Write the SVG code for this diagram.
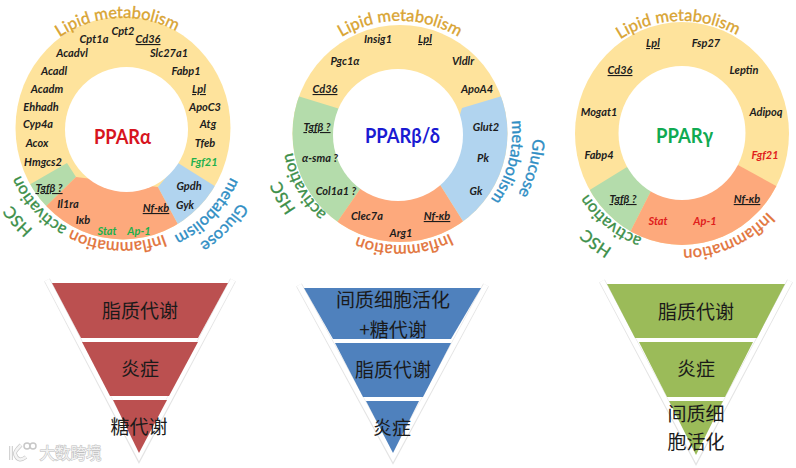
<svg xmlns="http://www.w3.org/2000/svg" width="796" height="468" viewBox="0 0 796 468">
<style>
.bg{fill:#fff}
.y{fill:#fee39c}.g{fill:#b4dcab}.o{fill:#fda97c}.b{fill:#b1d4ef}
.hole{fill:#fff}
.t{font-family:"Lato","Liberation Sans",sans-serif;font-size:11px;font-weight:700;font-style:italic;fill:#1c1c1c;text-anchor:middle}
.u{text-decoration:underline}
.lg{fill:#1fb04c}.lr{fill:#e0201c}
.title{font-family:"Lato","Liberation Sans",sans-serif;font-size:21px;font-weight:700;text-anchor:middle}
.arc{font-family:"Lato","Liberation Sans",sans-serif;font-size:16.5px;font-weight:400;text-anchor:middle;stroke-width:.35}
.cl{fill:#d9a432;stroke:#d9a432}.cg{fill:#3c8f49;stroke:#3c8f49}.co{fill:#e2733a;stroke:#e2733a}.cb{fill:#2f8ec4;stroke:#2f8ec4}
.cjk{font-family:"Noto Sans CJK SC",sans-serif;font-size:19px;fill:#1a1a1a;text-anchor:middle}
.edge{fill:none;stroke:#e4e4e4;stroke-width:6.500;stroke-linejoin:miter}
.edge2{fill:none;stroke:#fff;stroke-width:5;stroke-linejoin:miter}
.wm{font-family:"Noto Sans CJK SC",sans-serif;font-size:15.500px;fill:#f2f2f2;stroke:#bdbdbd;stroke-width:1;paint-order:stroke}
.wl{fill:none;stroke:#c8c8c8;stroke-width:4}
.wl2{fill:none;stroke:#f4f4f4;stroke-width:2.500}
</style>
<defs>
<path id="r109" d="M-108.6 -9.5A109 109 0 0 1 108.6 -9.5"/>
<path id="r112" d="M-111.6 -9.7A112 112 0 0 1 111.6 -9.7"/>
<path id="r113" d="M-112.5 -9.8A113 113 0 0 1 112.5 -9.8"/>
<path id="r116" d="M-115.6 -10.1A116 116 0 0 1 115.6 -10.1"/>
<path id="r118" d="M-117.5 -10.3A118 118 0 0 1 117.5 -10.3"/>
<path id="r129" d="M-128.5 -11.2A129 129 0 0 1 128.5 -11.2"/>
<path id="r133" d="M-132.5 -11.6A133 133 0 0 1 132.5 -11.6"/>
<path id="r134" d="M-133.5 -11.7A134 134 0 0 1 133.5 -11.7"/>
<path id="r135" d="M-134.5 -11.7A135 135 0 0 1 134.5 -11.7"/>
<path id="r137" d="M-136.5 -11.9A137 137 0 0 1 136.5 -11.9"/>
<clipPath id="c1"><ellipse cx="123" cy="128" rx="107.500" ry="111.500"/></clipPath>
<clipPath id="c2"><ellipse cx="400" cy="133.500" rx="107.500" ry="108.500"/></clipPath>
<clipPath id="c3"><ellipse cx="682" cy="133.500" rx="107" ry="111.500"/></clipPath>
</defs>
<rect class="bg" width="796" height="468"/>

<g id="ring-alpha">
<ellipse class="y" cx="123" cy="128" rx="107.500" ry="111.500"/>
<g clip-path="url(#c1)">
<polygon class="g" points="67,163 10,196 30,222 76,177"/>
<polygon class="o" points="76,177 30,222 60,280 195,256 158,187"/>
<polygon class="b" points="158,187 195,256 240,202 178,163"/>
</g>
<ellipse class="hole" cx="126.500" cy="129.500" rx="61.500" ry="62.500"/>
<text class="title" x="122.500" y="144" fill="#d7141e" textLength="57" lengthAdjust="spacingAndGlyphs">PPARα</text>
<g>
<text class="t" x="94" y="43">Cpt1a</text><text class="t" x="123" y="35">Cpt2</text><text class="t u" x="148" y="43">Cd36</text>
<text class="t" x="72" y="57">Acadvl</text><text class="t" x="169" y="57">Slc27a1</text>
<text class="t" x="54" y="75">Acadl</text><text class="t" x="186" y="75">Fabp1</text>
<text class="t" x="47" y="93">Acadm</text><text class="t u" x="199" y="93">Lpl</text>
<text class="t" x="41" y="111">Ehhadh</text><text class="t" x="205" y="111">ApoC3</text>
<text class="t" x="38" y="128">Cyp4a</text><text class="t" x="208" y="128">Atg</text>
<text class="t" x="37" y="147">Acox</text><text class="t" x="205" y="147">Tfeb</text>
<text class="t" x="43" y="166">Hmgcs2</text><text class="t lg" x="204" y="166">Fgf21</text>
<text class="t u" x="49" y="192">Tgfβ ?</text><text class="t" x="189" y="190">Gpdh</text><text class="t" x="185" y="209">Gyk</text>
<text class="t" x="68" y="208">Il1ra</text><text class="t u" x="156" y="212">Nf-κb</text><text class="t" x="83" y="224">Iκb</text>
<text class="t lg" x="107" y="235">Stat</text><text class="t lg" x="139" y="235">Ap-1</text>
</g>
<g transform="translate(123 130) rotate(-3)"><text class="arc cl"><textPath href="#r113" startOffset="50%">Lipid metabolism</textPath></text></g>
<g transform="translate(123 130) rotate(134)"><text class="arc cb"><textPath href="#r118" startOffset="50%">metabolism</textPath></text></g>
<g transform="translate(123 130) rotate(134)"><text class="arc cb"><textPath href="#r137" startOffset="50%">Glucose</textPath></text></g>
<g transform="translate(123 130) rotate(183)"><text class="arc co"><textPath href="#r113" startOffset="50%">Inflammation</textPath></text></g>
<g transform="translate(123 130) rotate(228)"><text class="arc cg"><textPath href="#r113" startOffset="50%">activation</textPath></text></g>
<g transform="translate(123 130) rotate(229)"><text class="arc cg"><textPath href="#r134" startOffset="50%">HSC</textPath></text></g>
</g>

<g id="ring-beta">
<ellipse class="y" cx="400" cy="133.500" rx="107.500" ry="108.500"/>
<g clip-path="url(#c2)">
<polygon class="g" points="340,109 278,90 270,200 322,244 363,185"/>
<polygon class="o" points="363,185 322,244 400,270 478,245 439,183"/>
<polygon class="b" points="439,183 478,245 530,200 522,90 462,108"/>
</g>
<ellipse class="hole" cx="398" cy="135" rx="65" ry="66"/>
<text class="title" x="402.500" y="143" fill="#1a1ad2" textLength="75" lengthAdjust="spacingAndGlyphs">PPARβ/δ</text>
<g>
<text class="t" x="378" y="43">Insig1</text><text class="t u" x="425" y="43">Lpl</text>
<text class="t" x="345" y="65">Pgc1α</text><text class="t" x="463" y="65">Vldlr</text>
<text class="t u" x="325" y="93">Cd36</text><text class="t" x="477" y="93">ApoA4</text>
<text class="t u" x="317" y="131">Tgfβ ?</text><text class="t" x="486" y="131">Glut2</text>
<text class="t" x="320" y="162">α-sma ?</text><text class="t" x="483" y="162">Pk</text>
<text class="t" x="336" y="195">Col1a1 ?</text><text class="t" x="476" y="195">Gk</text>
<text class="t" x="367" y="220">Clec7a</text><text class="t u" x="437" y="220">Nf-κb</text><text class="t" x="401" y="237">Arg1</text>
</g>
<g transform="translate(400 133) rotate(0)"><text class="arc cl"><textPath href="#r113" startOffset="50%">Lipid metabolism</textPath></text></g>
<g transform="translate(400 133) rotate(105)"><text class="arc cb"><textPath href="#r113" startOffset="50%">metabolism</textPath></text></g>
<g transform="translate(400 133) rotate(105)"><text class="arc cb"><textPath href="#r133" startOffset="50%">Glucose</textPath></text></g>
<g transform="translate(400 133) rotate(178)"><text class="arc co"><textPath href="#r112" startOffset="50%">Inflammation</textPath></text></g>
<g transform="translate(400 133) rotate(241)"><text class="arc cg"><textPath href="#r109" startOffset="50%">activation</textPath></text></g>
<g transform="translate(400 133) rotate(241)"><text class="arc cg"><textPath href="#r129" startOffset="50%">HSC</textPath></text></g>
</g>

<g id="ring-gamma">
<ellipse class="y" cx="682" cy="133.500" rx="107" ry="111.500"/>
<g clip-path="url(#c3)">
<polygon class="g" points="627,167 570,202 621,250 651,191"/>
<polygon class="o" points="651,191 621,250 700,270 800,199 738,165"/>
</g>
<ellipse class="hole" cx="682" cy="133" rx="63.500" ry="67"/>
<text class="title" x="684.500" y="143" fill="#10aa52" textLength="57" lengthAdjust="spacingAndGlyphs">PPARγ</text>
<g>
<text class="t u" x="653" y="47">Lpl</text><text class="t" x="706" y="47">Fsp27</text>
<text class="t u" x="620" y="74">Cd36</text><text class="t" x="744" y="74">Leptin</text>
<text class="t" x="599" y="116">Mogat1</text><text class="t" x="766" y="116">Adipoq</text>
<text class="t" x="599" y="159">Fabp4</text><text class="t lr" x="765" y="159">Fgf21</text>
<text class="t u" x="623" y="203">Tgfβ ?</text><text class="t u" x="747" y="203">Nf-κb</text>
<text class="t lr" x="658" y="225">Stat</text><text class="t lr" x="705" y="225">Ap-1</text>
</g>
<g transform="translate(682 133) rotate(-2)"><text class="arc cl"><textPath href="#r113" startOffset="50%">Lipid metabolism</textPath></text></g>
<g transform="translate(682 133) rotate(156)"><text class="arc co"><textPath href="#r116" startOffset="50%">Inflammation</textPath></text></g>
<g transform="translate(682 133) rotate(219)"><text class="arc cg"><textPath href="#r112" startOffset="50%">activation</textPath></text></g>
<g transform="translate(682 133) rotate(218)"><text class="arc cg"><textPath href="#r135" startOffset="50%">HSC</textPath></text></g>
</g>

<g id="pyramid-alpha">
<polyline class="edge" points="47,280 139,457 233,280"/>
<polyline class="edge2" points="47,280 139,456 233,280"/>
<g id="pa-1"><polygon fill="#bb5050" points="52,283 228,283 198,338 81,338"/><text class="cjk" x="140" y="318">脂质代谢</text></g>
<g id="pa-2"><polygon fill="#bb5050" points="82,342 198,342 169,396 110,396"/><text class="cjk" x="140" y="376">炎症</text></g>
<g id="pa-3"><polygon fill="#bb5050" points="113,400 167,400 139,453"/><text class="cjk" x="139" y="434">糖代谢</text></g>
</g>

<g id="pyramid-beta">
<polyline class="edge" points="299,285 393,458 486,285"/>
<polyline class="edge2" points="299,285 393,457 486,285"/>
<g id="pb-1"><polygon fill="#4f81bd" points="304,288 481,288 451,339 333,339"/><text class="cjk" x="393" y="307">间质细胞活化</text><text class="cjk" x="393" y="337">+糖代谢</text></g>
<g id="pb-2"><polygon fill="#4f81bd" points="335,343 451,343 423,397 363,397"/><text class="cjk" x="393" y="377">脂质代谢</text></g>
<g id="pb-3"><polygon fill="#4f81bd" points="366,401 419,401 393,453"/><text class="cjk" x="392" y="435">炎症</text></g>
</g>

<g id="pyramid-gamma">
<polyline class="edge" points="602,281 696,459 790,281"/>
<polyline class="edge2" points="602,281 696,458 790,281"/>
<g id="pg-1"><polygon fill="#9bbb59" points="607,284 785,284 757,338 635,338"/><text class="cjk" x="696" y="319">脂质代谢</text></g>
<g id="pg-2"><polygon fill="#9bbb59" points="639,342 753,342 725,397 667,397"/><text class="cjk" x="696" y="376">炎症</text></g>
<g id="pg-3"><polygon fill="#9bbb59" points="669,401 723,401 696,455"/><text class="cjk" x="696" y="421">间质细</text><text class="cjk" x="696" y="449">胞活化</text></g>
</g>

<g id="watermark">
<path class="wl" d="M11 446V460M21 445Q14 452 15 454Q18 463 26 457"/>
<path class="wl2" d="M11 446V460M21 445Q14 452 15 454Q18 463 26 457"/>
<circle cx="27" cy="446" r="3" fill="#fff" stroke="#c8c8c8" stroke-width="1.500"/>
<circle cx="33" cy="446" r="3" fill="#fff" stroke="#c8c8c8" stroke-width="1.500"/>
<text class="wm" x="39.500" y="459">大数跨境</text>
</g>
</svg>
